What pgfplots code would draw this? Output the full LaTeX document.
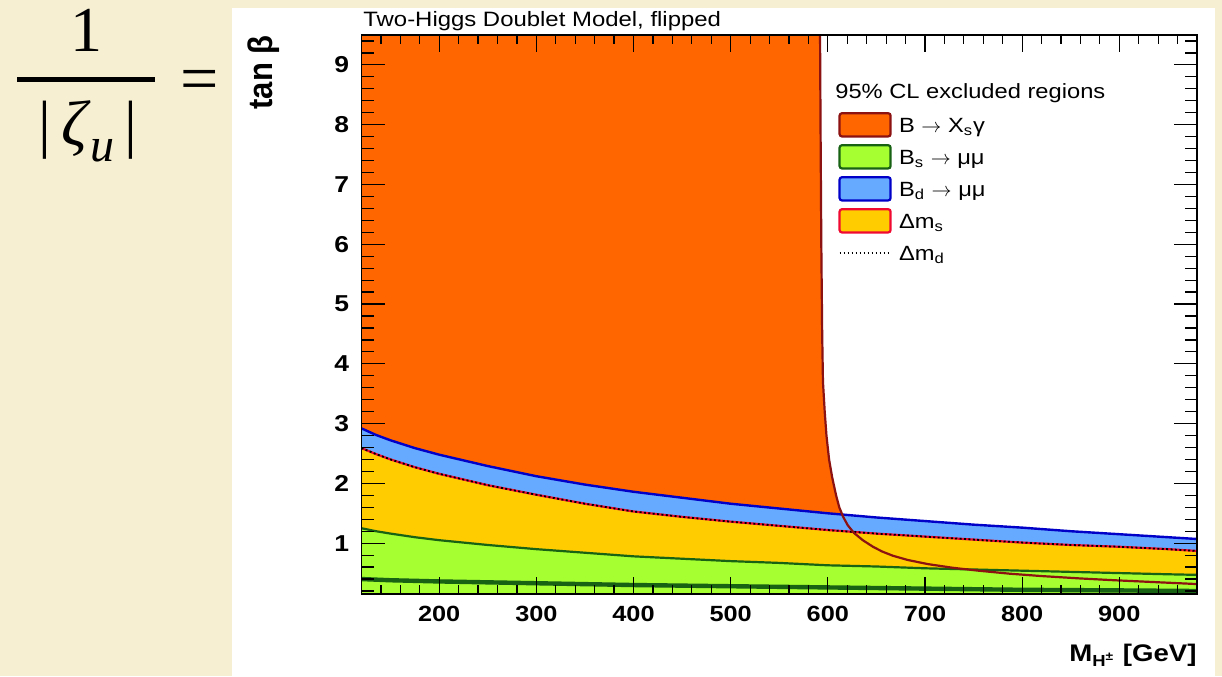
\documentclass[border=0pt]{standalone}
\usepackage{pgfplots}
\pgfplotsset{compat=1.18}
\usepackage{fontspec}
\setmainfont{Liberation Sans}[FakeStretch=1.15]
\newfontfamily\serifface{Liberation Serif}
\newfontfamily\labelface{Liberation Sans}

\definecolor{parchment}{RGB}{246,239,209}
\definecolor{orangeF}{RGB}{255,102,0}
\definecolor{darkred}{RGB}{140,18,18}
\definecolor{greenF}{RGB}{166,255,48}
\definecolor{darkgreen}{RGB}{24,98,20}
\definecolor{blueF}{RGB}{102,170,255}
\definecolor{blueL}{RGB}{0,0,200}
\definecolor{yellowF}{RGB}{255,204,0}
\definecolor{redL}{RGB}{240,10,50}

\pgfplotsset{
  regionbox/.style 2 args={legend image code/.code={
      \draw[fill=#1,draw=#2,line width=1.1pt,rounded corners=1.2pt]
        (0pt,-2.1pt) rectangle (25.5pt,9.5pt);}},
  dottedbox/.style={legend image code/.code={
      \path[draw=none,fill=none] (0pt,-2.65pt) rectangle (25.5pt,10.05pt);
      \draw[black,line width=0.8pt,dash pattern=on 0.8pt off 1.2pt]
        (0pt,3.7pt) -- (25.5pt,3.7pt);}},
}

\pgfplotstableread{
x     bd    dms   bs
120   2.92  2.59  1.25
135   2.81  2.49  1.20
150   2.72  2.40  1.16
175   2.59  2.27  1.10
200   2.48  2.16  1.05
250   2.29  1.97  0.97
300   2.12  1.81  0.90
350   1.98  1.66  0.84
400   1.86  1.53  0.78
450   1.76  1.44  0.74
500   1.66  1.36  0.70
550   1.58  1.29  0.67
600   1.50  1.22  0.63
650   1.43  1.16  0.61
700   1.37  1.11  0.58
750   1.31  1.06  0.56
800   1.26  1.01  0.54
850   1.20  0.97  0.52
900   1.15  0.94  0.50
950   1.10  0.90  0.48
980   1.07  0.87  0.47
}\limits

\begin{document}
\begin{tikzpicture}
% slide background and white panel
\fill[parchment] (0pt,0pt) rectangle (611pt,338pt);
\fill[white] (116pt,0pt) rectangle (607.5pt,334pt);

% 1/|zeta_u| =
\node[anchor=base,inner sep=0pt,font=\serifface\fontsize{32}{32}\selectfont] at (43pt,312pt) {1};
\fill[black] (8.5pt,296.75pt) rectangle (77.5pt,299.25pt);
\node[anchor=base,inner sep=0pt,font=\serifface\fontsize{32}{32}\selectfont] at (44pt,265pt)
  {|\kern5pt\textit{ζ}\raisebox{-8pt}{\fontsize{24}{24}\selectfont\textit{u}}\kern5pt|};
\node[anchor=base,inner sep=0pt,font=\serifface\fontsize{34}{34}\selectfont] at (100pt,287pt) {=};

\begin{axis}[
  at={(180.75pt,41pt)}, anchor=south west,
  scale only axis, width=417.75pt, height=279.5pt,
  xmin=120, xmax=980, ymin=0.15, ymax=9.5,
  axis on top,
  axis line style={line width=0.9pt},
  tick style={black,line width=0.6pt},
  tick align=inside, tick pos=both,
  xtick={200,300,...,900}, ytick={1,2,...,9},
  minor xtick={120,140,...,980},
  minor ytick={0.2,0.4,...,9.4},
  xtick style={/pgfplots/major tick length=8.5pt,/pgfplots/minor tick length=4.5pt},
  ytick style={/pgfplots/major tick length=11.5pt,/pgfplots/minor tick length=6pt},
  /pgf/number format/assume math mode=true,
  xticklabel style={font=\bfseries\fontsize{11}{11}\selectfont,inner sep=0pt,yshift=-6pt},
  yticklabel style={font=\bfseries\fontsize{11.5}{11.5}\selectfont,inner sep=0pt,xshift=-6pt},
  title={Two-Higgs Doublet Model, flipped},
  title style={at={(0,1)},anchor=base west,inner sep=0pt,yshift=-2pt,xshift=0.75pt,
    font=\fontsize{10.4}{12}\selectfont},
  xlabel={M\textsubscript{H\textsuperscript{±}} [GeV]},
  xlabel style={at={(1,0)},anchor=base east,inner sep=0pt,yshift=-33.9pt,
    font=\bfseries\fontsize{12}{14}\selectfont},
  ylabel={tan β},
  ylabel style={at={(-0.1071,1)},anchor=base east,inner sep=0pt,yscale=1.1,
    font=\labelface\bfseries\fontsize{15.5}{17}\selectfont},
  legend style={at={(0.5709,0.862)},anchor=north west,draw=none,fill=none,
    inner sep=0pt,outer sep=0pt,row sep=3.3pt,column sep=3.7pt,
    nodes={inner sep=0pt},font=\fontsize{10.3}{12}\selectfont},
  legend cell align=left,
  legend style={cells={anchor=base west}},
]

% B -> Xs gamma excluded region (left of the boundary)
\addplot[draw=none,fill=orangeF,forget plot] coordinates {
  (110,0) (110,9.7) (592,9.7) (592,9.5) (592.5,8) (593.3,6) (594.2,4.5)
  (595,3.7) (596.8,3.2) (598.6,2.8) (601.3,2.4) (604.5,2.1) (608.5,1.8)
  (611.8,1.6) (615.5,1.45) (620.5,1.3) (627,1.17) (636,1.05) (646.5,0.94)
  (656,0.86) (667,0.79) (682,0.72) (703,0.65) (728,0.59) (755,0.54)
  (787,0.49) (820,0.45) (860,0.41) (895,0.38) (935,0.35) (975,0.32)
  (990,0.31) (990,0)
};

% Bd -> mu mu
\addplot[draw=none,fill=blueF,forget plot] table[x=x,y=bd] {\limits} -- (axis cs:980,0) -- (axis cs:120,0) -- cycle;
% Delta m_s
\addplot[draw=none,fill=yellowF,forget plot] table[x=x,y=dms] {\limits} -- (axis cs:980,0) -- (axis cs:120,0) -- cycle;
% Bs -> mu mu
\addplot[draw=none,fill=greenF,forget plot] table[x=x,y=bs] {\limits} -- (axis cs:980,0) -- (axis cs:120,0) -- cycle;

% lower Bs -> mu mu contour
\addplot[darkgreen,line width=2.2pt,forget plot] coordinates {
  (120,0.40) (150,0.38) (200,0.36) (300,0.33) (400,0.30) (500,0.28)
  (600,0.26) (700,0.24) (800,0.22) (900,0.21) (980,0.20)
};

% upper Bs -> mu mu contour
\addplot[darkgreen,line width=1.1pt,forget plot] table[x=x,y=bs] {\limits};
% Delta m_s contour, with Delta m_d dotted on top
\addplot[redL,line width=1.1pt,forget plot] table[x=x,y=dms] {\limits};
\addplot[black,line width=0.9pt,dash pattern=on 1pt off 1.2pt,forget plot] table[x=x,y=dms] {\limits};
% Bd -> mu mu contour
\addplot[blueL,line width=1.2pt,forget plot] table[x=x,y=bd] {\limits};

% B -> Xs gamma contour
\addplot[darkred,line width=1.1pt,forget plot] coordinates {
  (592,9.7) (592,9.5) (592.5,8) (593.3,6) (594.2,4.5)
  (595,3.7) (596.8,3.2) (598.6,2.8) (601.3,2.4) (604.5,2.1) (608.5,1.8)
  (611.8,1.6) (615.5,1.45) (620.5,1.3) (627,1.17) (636,1.05) (646.5,0.94)
  (656,0.86) (667,0.79) (682,0.72) (703,0.65) (728,0.59) (755,0.54)
  (787,0.49) (820,0.45) (860,0.41) (895,0.38) (935,0.35) (975,0.32)
  (990,0.31)
};

\node[anchor=base west,inner sep=0pt,font=\fontsize{10.3}{12}\selectfont]
  at (rel axis cs:0.5667,0.8864) {95\% CL excluded regions};

\addlegendimage{regionbox={orangeF}{darkred}}
\addlegendentry{B $\rightarrow$ X\textsubscript{s}γ}
\addlegendimage{regionbox={greenF}{darkgreen}}
\addlegendentry{B\textsubscript{s} $\rightarrow$ μμ}
\addlegendimage{regionbox={blueF}{blueL}}
\addlegendentry{B\textsubscript{d} $\rightarrow$ μμ}
\addlegendimage{regionbox={yellowF}{redL}}
\addlegendentry{Δm\textsubscript{s}}
\addlegendimage{dottedbox}
\addlegendentry{Δm\textsubscript{d}}
\end{axis}
\end{tikzpicture}
\end{document}
